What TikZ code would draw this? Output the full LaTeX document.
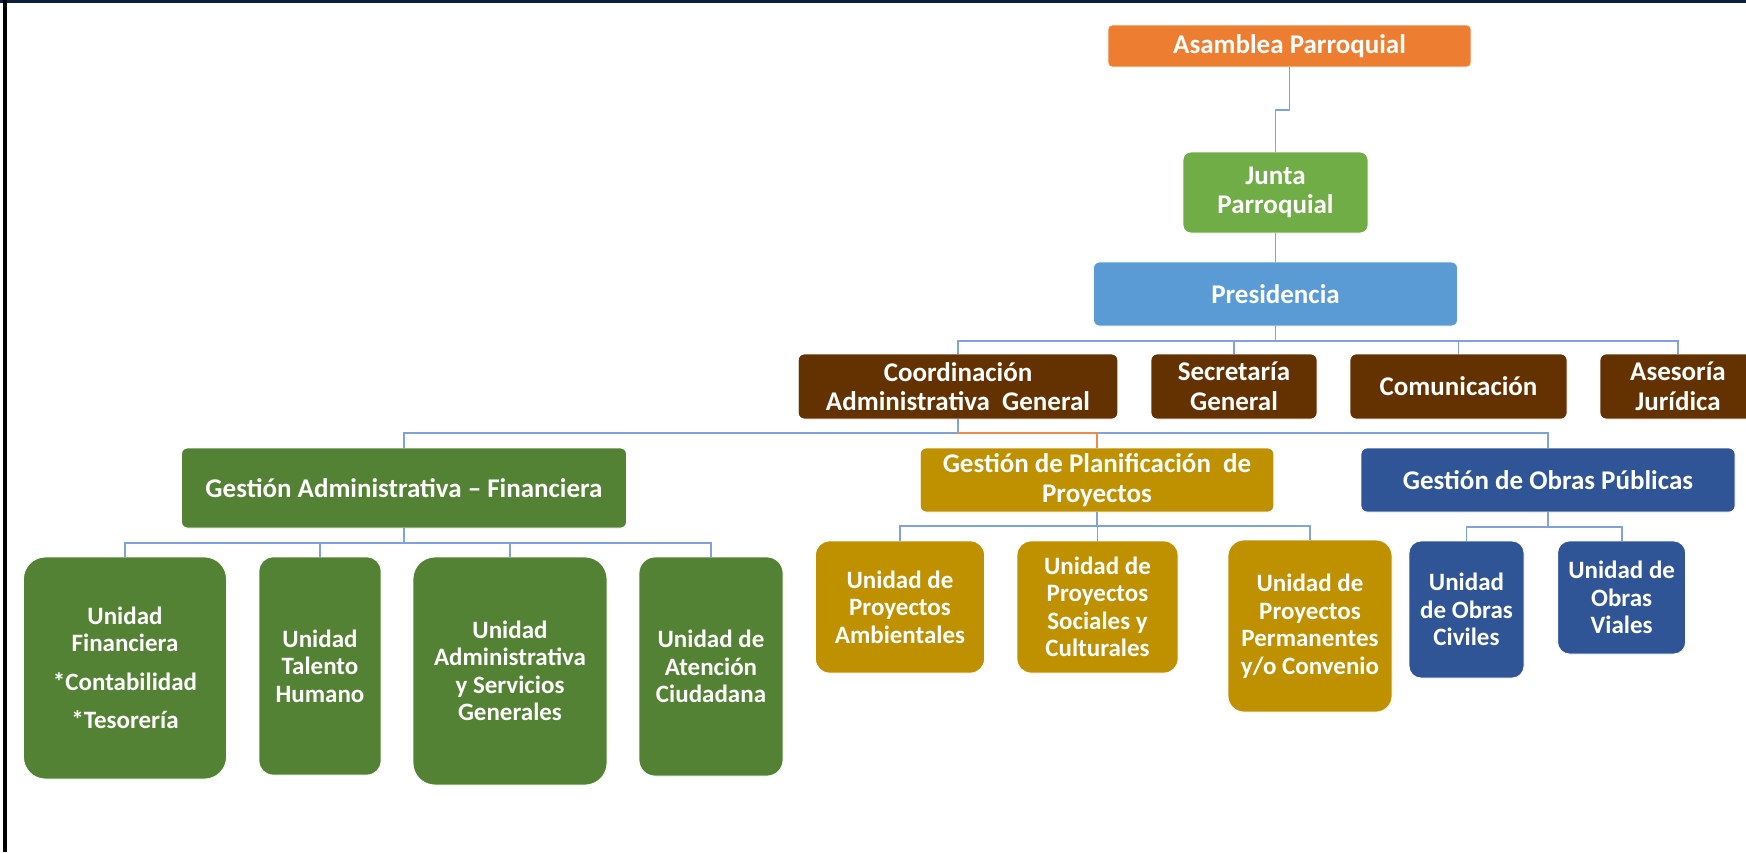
\documentclass[tikz,border=0pt]{standalone}
\usepackage{fontspec}
\setmainfont{Carlito}
\definecolor{cAsam}{HTML}{ED7D31}
\definecolor{cJunta}{HTML}{70AD47}
\definecolor{cPres}{HTML}{5B9BD5}
\definecolor{cBrown}{HTML}{643200}
\definecolor{cGreen}{HTML}{548235}
\definecolor{cGold}{HTML}{BF9000}
\definecolor{cNavy}{HTML}{2F5597}
\definecolor{cLine}{HTML}{7FA2DD}
\definecolor{cOLine}{HTML}{F08A4B}
\definecolor{cTop}{HTML}{0B1E3C}
\tikzset{
  box/.style={draw=white, line width=0.8pt, text=white, align=center, inner sep=0pt,
    font=\fontsize{27}{29.5}\selectfont\bfseries},
  unit/.style={box, font=\fontsize{25}{27.5}\selectfont\bfseries},
  conn/.style={draw=cLine, line width=1.8pt},
  oconn/.style={draw=cOLine, line width=1.8pt},
}
\begin{document}
\begin{tikzpicture}[x=1pt, y=-1pt]
\useasboundingbox (0,0) rectangle (1746,852);
\clip (0,0) rectangle (1746,852);
\fill[white] (0,0) rectangle (1746,852);
\fill[cTop] (0,0) rectangle (1746,3);
\fill[black] (3,0) rectangle (7,852);

% top levels
\node[box, fill=cAsam, rounded corners=4pt, minimum width=363pt, minimum height=42pt] (asam) at (1289.5,46) {Asamblea Parroquial};
\node[box, fill=cJunta, rounded corners=8pt, minimum width=185pt, minimum height=81pt] (junta) at (1275.5,192.5) {Junta\\Parroquial};
\node[box, fill=cPres, rounded corners=6pt, minimum width=364pt, minimum height=64pt] (pres) at (1275.5,294) {Presidencia};

\node[box, fill=cBrown, rounded corners=6pt, minimum width=319.5pt, minimum height=65pt] (coord) at (958,386.5) {Coordinación\\Administrativa\ \ General};
\node[box, fill=cBrown, rounded corners=6pt, minimum width=166pt, minimum height=65pt] (sec) at (1234,386.5) {Secretaría\\General};
\node[box, fill=cBrown, rounded corners=6pt, minimum width=217pt, minimum height=65pt] (com) at (1458.5,386.5) {Comunicación};
\node[box, fill=cBrown, rounded corners=6pt, minimum width=156pt, minimum height=65pt] (ases) at (1678,386.5) {Asesoría\\Jurídica};

\node[box, fill=cGreen, rounded corners=6pt, minimum width=445pt, minimum height=80pt] (gadm) at (404,488) {Gestión Administrativa – Financiera};
\node[box, fill=cGold, rounded corners=6pt, minimum width=353.5pt, minimum height=64pt] (gplan) at (1097,480) {Gestión de Planificación\ \ de\\Proyectos};
\node[box, fill=cNavy, rounded corners=6pt, minimum width=374pt, minimum height=64pt] (gobr) at (1548,480) {Gestión de Obras Públicas};

% units
\node[unit, fill=cGreen, rounded corners=22pt, minimum width=203pt, minimum height=222pt] (ufin) at (125,668) {Unidad\\Financiera\\[11pt]*Contabilidad\\[11pt]*Tesorería};
\node[unit, fill=cGreen, rounded corners=14pt, minimum width=122pt, minimum height=218pt] (utal) at (320,666) {Unidad\\Talento\\Humano};
\node[unit, fill=cGreen, rounded corners=22pt, minimum width=194pt, minimum height=228pt] (uadm) at (510,671) {Unidad\\Administrativa\\y Servicios\\Generales};
\node[unit, fill=cGreen, rounded corners=16pt, minimum width=144pt, minimum height=219pt] (uate) at (711,666.5) {Unidad de\\Atención\\Ciudadana};

\node[unit, fill=cGold, rounded corners=14pt, minimum width=169pt, minimum height=132pt] (uamb) at (900,607) {Unidad de\\Proyectos\\Ambientales};
\node[unit, fill=cGold, rounded corners=14pt, minimum width=161pt, minimum height=132pt] (usoc) at (1097.5,607) {Unidad de\\Proyectos\\Sociales y\\Culturales};
\node[unit, fill=cGold, rounded corners=16pt, minimum width=164pt, minimum height=172pt] (uper) at (1310,626) {Unidad de\\Proyectos\\Permanentes\\y/o Convenio};

\node[unit, fill=cNavy, rounded corners=12pt, minimum width=115pt, minimum height=137pt] (uciv) at (1466.5,609.5) {Unidad\\de Obras\\Civiles};
\node[unit, fill=cNavy, rounded corners=12pt, minimum width=128pt, minimum height=113pt] (uvia) at (1621.6,597.5) {Unidad de\\Obras\\Viales};

% connectors
\draw[conn] (asam.south) -- (asam.south |- 0,110) -| (junta.north);
\draw[conn] (junta.south) -- (pres.north);

\draw[conn] (pres.south) -- (pres.south |- 0,341);
\draw[conn] (coord.north) -- (coord.north |- 0,341) -- (ases.north |- 0,341) -- (ases.north);
\draw[conn] (sec.north) -- (sec.north |- 0,341);
\draw[conn] (com.north) -- (com.north |- 0,341);

\draw[conn] (coord.south) -- (coord.south |- 0,433);
\draw[conn] (gadm.north) -- (gadm.north |- 0,433) -- (gobr.north |- 0,433) -- (gobr.north);
\draw[oconn] (coord.south |- 0,433) -| (gplan.north);

\draw[conn] (gadm.south) -- (gadm.south |- 0,543);
\draw[conn] (ufin.north) -- (ufin.north |- 0,543) -- (uate.north |- 0,543) -- (uate.north);
\draw[conn] (utal.north) -- (utal.north |- 0,543);
\draw[conn] (uadm.north) -- (uadm.north |- 0,543);

\draw[conn] (gplan.south) -- (gplan.south |- 0,526);
\draw[conn] (uamb.north) -- (uamb.north |- 0,526) -- (uper.north |- 0,526) -- (uper.north);
\draw[oconn] (usoc.north |- 0,518) -- (usoc.north);

\draw[conn] (gobr.south) -- (gobr.south |- 0,527);
\draw[conn] (uciv.north) -- (uciv.north |- 0,527) -- (uvia.north |- 0,527) -- (uvia.north);
\end{tikzpicture}
\end{document}
